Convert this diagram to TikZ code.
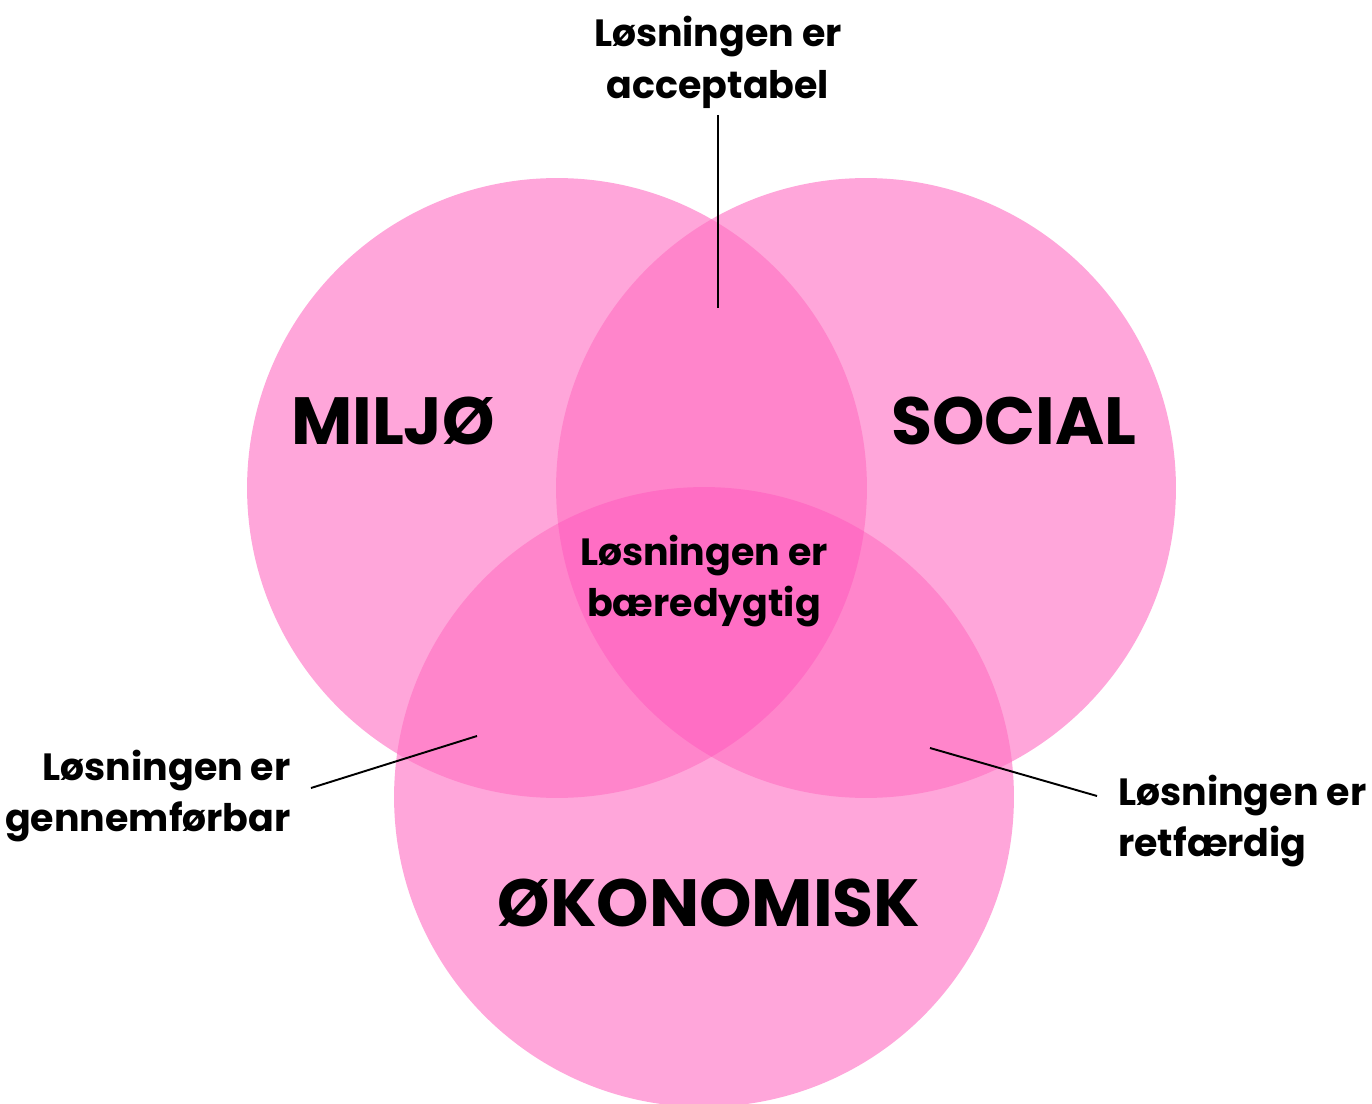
\documentclass[tikz,border=0pt]{standalone}
\usepackage{fontspec}
\setmainfont{Poppins}
\usetikzlibrary{positioning}
\definecolor{vennone}{HTML}{FFA6DA}
\definecolor{venntwo}{HTML}{FF85CB}
\definecolor{vennthree}{HTML}{FF6EC4}
\tikzset{
  sphere/.style={circle, minimum size=12.4cm, inner sep=0pt, fill=vennone},
  bigtext/.style={font=\fontsize{38}{42}\selectfont\bfseries},
  smalltext/.style={font=\fontsize{21.6}{29.5}\selectfont\bfseries, inner sep=0pt},
  pointer/.style={line width=1.1pt}
}
\begin{document}
\begin{tikzpicture}[x=0.02cm, y=-0.02cm]
  \useasboundingbox (0,0) rectangle (1372,1104);
  \node[sphere] (miljo) at (557,488) {};
  \node[sphere] (social) at (866,488) {};
  \node[sphere] (okonomi) at (704,797) {};
  \begin{scope}
    \clip (miljo.center) circle (6.2cm);
    \fill[venntwo] (social.center) circle (6.2cm);
    \fill[venntwo] (okonomi.center) circle (6.2cm);
  \end{scope}
  \begin{scope}
    \clip (social.center) circle (6.2cm);
    \fill[venntwo] (okonomi.center) circle (6.2cm);
  \end{scope}
  \begin{scope}
    \clip (miljo.center) circle (6.2cm);
    \clip (social.center) circle (6.2cm);
    \fill[vennthree] (okonomi.center) circle (6.2cm);
  \end{scope}
  \node[bigtext] (miljolabel) at (393,421) {MILJØ};
  \node[bigtext] (sociallabel) at (1014,421) {SOCIAL};
  \node[bigtext] (okonomilabel) at (709,903) {ØKONOMISK};
  \node[smalltext, align=center] (acceptabel) at (718,62) {Løsningen er\\acceptabel};
  \node[smalltext, align=center] (baeredygtig) at (704,581) {Løsningen er\\bæredygtig};
  \node[smalltext, align=right, anchor=east] (gennemforbar) at (291,796) {Løsningen er\\gennemførbar};
  \node[smalltext, align=left, anchor=west] (retfaerdig) at (1118,821) {Løsningen er\\retfærdig};
  \coordinate (acceptabel-end) at (718,308);
  \coordinate (gennemforbar-end) at (477,736);
  \coordinate (retfaerdig-end) at (930,748);
  \draw[pointer] (acceptabel.south |- 0,115) -- (acceptabel-end);
  \draw[pointer] ([xshift=0.4cm]gennemforbar.east |- 0,788) -- (gennemforbar-end);
  \draw[pointer] ([xshift=-0.42cm]retfaerdig.west |- 0,796) -- (retfaerdig-end);
\end{tikzpicture}
\end{document}
